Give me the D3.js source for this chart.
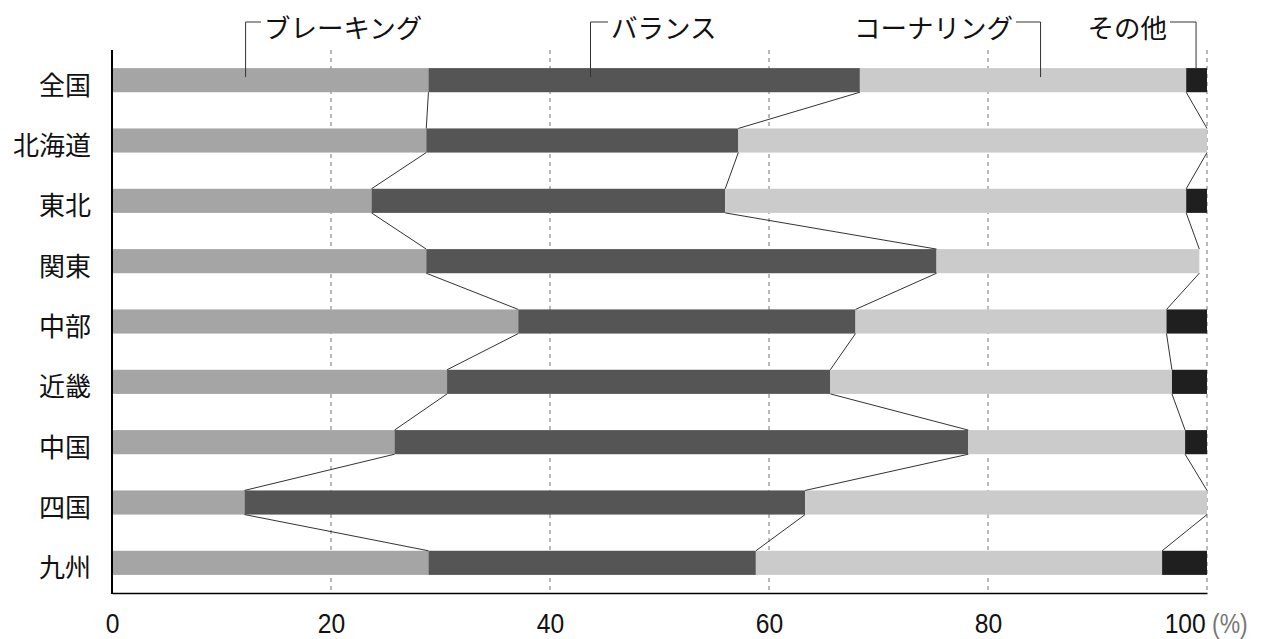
<!DOCTYPE html>
<html><head><meta charset="utf-8">
<script src="https://cdn.jsdelivr.net/npm/d3@7"></script>
<style>
html,body{margin:0;padding:0;background:#fff;}
svg{display:block;}
</style></head>
<body>
<svg id="chart" width="1263" height="639"></svg>
<script>
const categories = ["全国","北海道","東北","関東","中部","近畿","中国","四国","九州"];
const seriesNames = ["ブレーキング","バランス","コーナリング","その他"];
const braking   = [28.9, 28.7, 23.7, 28.7, 37.1, 30.6, 25.8, 12.1, 28.9];
const balance   = [39.4, 28.5, 32.3, 46.6, 30.8, 35.0, 52.4, 51.2, 29.9];
const cornering = [29.8, 42.8, 42.1, 24.0, 28.4, 31.2, 19.8, 36.7, 37.1];
const other     = [ 1.9,  0.0,  1.9,  0.0,  3.7,  3.2,  2.0,  0.0,  4.1];
const tickValues = [0, 20, 40, 60, 80, 100];

const colors = ["#a5a5a5", "#555555", "#cbcbcb", "#1f1f1f"];
const series = [braking, balance, cornering, other];

const svg = d3.select("#chart");
const x = d3.scaleLinear().domain([0, 100]).range([112, 1207]);
const y = d3.scaleBand().domain(categories).range([50, 593]).paddingInner(0.6).paddingOuter(0.3);

const table = categories.map((c, i) => {
  const row = {cat: c};
  seriesNames.forEach((s, k) => row[s] = series[k][i]);
  return row;
});
const stacked = d3.stack().keys(seriesNames)(table);

// gridlines
svg.append("g").selectAll("line").data(tickValues.filter(v => v > 0)).join("line")
  .attr("x1", d => x(d)).attr("x2", d => x(d))
  .attr("y1", 50).attr("y2", 593)
  .attr("stroke", "#777").attr("stroke-width", 1).attr("stroke-dasharray", "4,4");

// bars
svg.append("g").selectAll("g").data(stacked).join("g")
  .attr("fill", (d, k) => colors[k])
  .selectAll("rect").data(d => d).join("rect")
  .attr("x", d => x(d[0]))
  .attr("width", d => Math.max(0, x(d[1]) - x(d[0])))
  .attr("y", d => y(d.data.cat))
  .attr("height", y.bandwidth());

// connector lines
const conn = svg.append("g").attr("stroke", "#333").attr("stroke-width", 1).attr("fill", "none");
for (let k = 0; k < 3; k++) {
  for (let i = 0; i < categories.length - 1; i++) {
    const a = stacked[k][i][1], b = stacked[k][i + 1][1];
    conn.append("line")
      .attr("x1", x(a)).attr("y1", y(categories[i]) + y.bandwidth())
      .attr("x2", x(b)).attr("y2", y(categories[i + 1]));
  }
}

// axes
svg.append("line").attr("x1", x(0)).attr("x2", x(0)).attr("y1", 50).attr("y2", 594)
  .attr("stroke", "#000").attr("stroke-width", 2);
const xAxis = svg.append("g").attr("transform", "translate(0,593)")
  .call(d3.axisBottom(x).tickValues(tickValues).tickSize(0).tickPadding(20).tickFormat(d3.format("d")));
xAxis.select(".domain").attr("stroke", "#000").attr("stroke-width", 1.5);
xAxis.selectAll("text")
  .attr("font-family", "'Liberation Sans', sans-serif")
  .attr("font-size", 28).attr("fill", "#111")
  .attr("text-anchor", d => d === 100 ? "end" : "middle")
  .attr("x", d => d === 100 ? -2 : 0)
  .attr("transform", "scale(0.88,1)");
svg.append("text").attr("x", 1212).attr("y", 633)
  .attr("font-family", "'Liberation Sans', sans-serif")
  .attr("font-size", 27).attr("fill", "#777")
  .attr("transform", "translate(1212,0) scale(0.85,1) translate(-1212,0)")
  .text("(%)");

// category labels
svg.append("g").selectAll("text").data(categories).join("text")
  .attr("x", 91).attr("y", d => y(d) + y.bandwidth() / 2 + 5)
  .attr("dy", "0.36em").attr("text-anchor", "end")
  .attr("font-family", "'Noto Sans CJK JP', sans-serif")
  .attr("font-size", 26).attr("fill", "#111").text(d => d);

// legend labels with brackets
const legendDefs = [
  {name: seriesNames[0], anchor: 12.2, textX: 264, side: "left"},
  {name: seriesNames[1], anchor: 43.7, textX: 611, side: "left"},
  {name: seriesNames[2], anchor: 84.8, textX: 1013, side: "right"},
  {name: seriesNames[3], anchor: 99.0, textX: 1167, side: "right"}
];
const lg = svg.append("g");
legendDefs.forEach((d, k) => {
  const ax = x(d.anchor);
  const topY = 22;
  const botY = k === 3 ? y(categories[0]) : y(categories[0]) + 9;
  const hx = d.side === "left" ? d.textX - 3 : d.textX + 3;
  lg.append("path")
    .attr("d", `M${ax},${botY}V${topY}H${hx}`)
    .attr("stroke", "#333").attr("stroke-width", 1).attr("fill", "none");
  lg.append("text").attr("x", d.textX).attr("y", 28)
    .attr("dy", "0.36em")
    .attr("text-anchor", d.side === "left" ? "start" : "end")
    .attr("font-family", "'Noto Sans CJK JP', sans-serif")
    .attr("font-size", 26.5).attr("fill", "#111").text(d.name);
});
</script>
</body></html>
